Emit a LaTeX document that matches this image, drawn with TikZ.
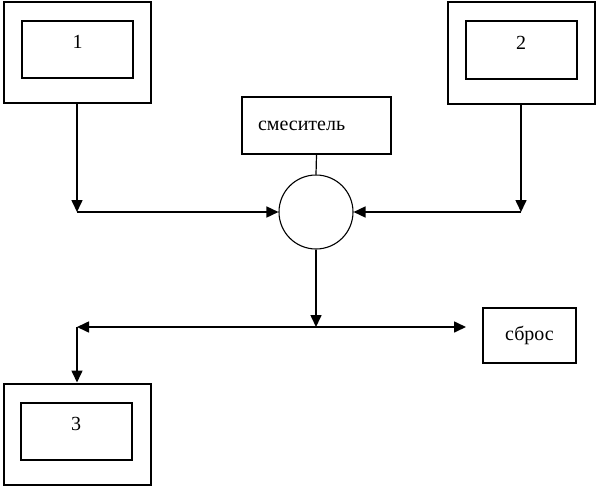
\documentclass[tikz,border=0pt]{standalone}
\usepackage{fontspec}
\setmainfont{Liberation Serif}
\usetikzlibrary{arrows.meta, positioning}

\begin{document}
\begin{tikzpicture}[x=1pt, y=-1pt,
        font=\fontsize{20pt}{24pt}\selectfont,
        outerbox/.style={draw, line width=2pt, minimum width=147pt, minimum height=101pt, inner sep=0pt},
        innerbox/.style={draw, line width=2pt, minimum width=111pt, minimum height=57pt, inner sep=0pt,
                         text height=13pt, text depth=15pt},
        unitbox/.style={draw, line width=1.6pt, inner sep=0pt},
        flow/.style={line width=1.6pt, -{Triangle[length=12pt, width=11pt]}},
        both/.style={line width=1.6pt, {Triangle[length=12pt, width=11pt]}-{Triangle[length=12pt, width=11pt]}}]
    \useasboundingbox (0, 0) rectangle (596, 487);

    % sources and receiver
    \node[outerbox] (outer1) at (77, 52.5) {};
    \node[innerbox] (inner1) at (77.5, 49.5) {1};
    \node[outerbox] (outer2) at (521, 53) {};
    \node[innerbox] (inner2) at (521, 50) {2};
    \node[outerbox] (outer3) at (77, 434) {};
    \node[innerbox] (inner3) at (76, 431.5) {3};

    % mixer
    \node[unitbox, minimum width=149pt, minimum height=57pt, text width=117pt, align=left] (smes) at (316.5, 125.5) {смеситель};
    \node[draw, circle, line width=1.1pt, minimum size=74pt, inner sep=0pt] (mix) at (316, 212) {};
    \node[unitbox, minimum width=93pt, minimum height=55pt] (sbros) at (529.5, 335.5) {сброс};

    \coordinate (j1) at (77, 212);
    \coordinate (j2) at (521, 212);
    \coordinate (j3) at (316, 327);
    \coordinate (j4) at (77, 327);
    \coordinate (j5) at (466, 327);

    \draw[flow] (outer1.south) -- (j1);
    \draw[flow] (j1) -- (mix.west);
    \draw[flow] (outer2.south) -- (j2);
    \draw[flow] (j2) -- (mix.east);
    \draw[line width=1.2pt] (smes.south) -- (mix.north);
    \draw[flow] (mix.south) -- (j3);
    \draw[both] (j4) -- (j5);
    \draw[flow] (j4) -- (outer3.north);
\end{tikzpicture}
\end{document}
